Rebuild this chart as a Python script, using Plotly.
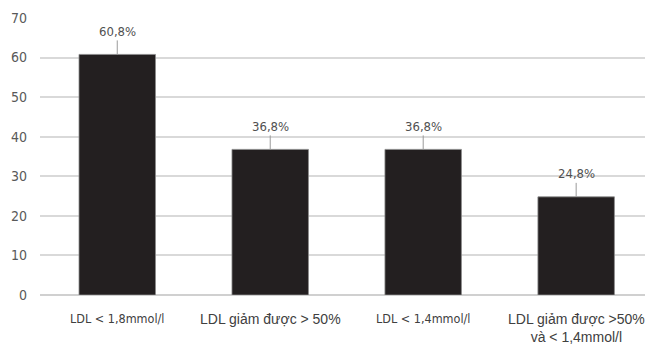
import plotly.graph_objects as go

categories = ["LDL < 1,8mmol/l", "LDL giảm được > 50%", "LDL < 1,4mmol/l", "LDL giảm được >50%<br>và < 1,4mmol/l"]
values = [60.8, 36.8, 36.8, 24.8]
value_labels = ["60,8%", "36,8%", "36,8%", "24,8%"]
y_ticks = [0, 10, 20, 30, 40, 50, 60, 70]

# per-category label styling (condensed vs regular face)
label_fonts = [
    ("DejaVu Sans Condensed", 12.5),
    ("Liberation Sans", 14),
    ("DejaVu Sans Condensed", 12.5),
    ("Liberation Sans", 14),
]

x = list(range(len(categories)))

fig = go.Figure(
    go.Bar(
        x=x,
        y=values,
        width=0.5,
        marker=dict(color="#231f20", line=dict(color="#8a8a8a", width=0.8)),
        hoverinfo="skip",
    )
)

for xi, v, lab in zip(x, values, value_labels):
    fig.add_annotation(
        x=xi, y=v, xref="x", yref="y",
        text=lab, showarrow=True, arrowhead=0, arrowwidth=1,
        arrowcolor="#9a9a9a", ax=0, ay=-23, standoff=0,
        font=dict(family="DejaVu Sans Condensed", size=13, color="#505050"),
    )

for xi, cat, (fam, size) in zip(x, categories, label_fonts):
    fig.add_annotation(
        x=xi, y=0, xref="x", yref="y",
        text=cat, showarrow=False, yanchor="top", yshift=-14,
        font=dict(family=fam, size=size, color="#404040"),
    )

fig.update_layout(
    width=645, height=347,
    margin=dict(l=40, r=0, t=18, b=52),
    paper_bgcolor="white", plot_bgcolor="white",
    showlegend=False,
    xaxis=dict(
        range=[-0.505, 3.45],
        showticklabels=False,
        showgrid=False, zeroline=False, showline=False, ticks="",
    ),
    yaxis=dict(
        range=[0, 70], tickvals=y_ticks,
        showgrid=True, gridcolor="#d9d9d9", gridwidth=1.5,
        zeroline=True, zerolinecolor="#d0d0d0", zerolinewidth=1.5,
        ticks="", ticklabelstandoff=12,
        tickfont=dict(family="DejaVu Sans Condensed", size=14, color="#595959"),
    ),
)

fig.write_html("out.html")
